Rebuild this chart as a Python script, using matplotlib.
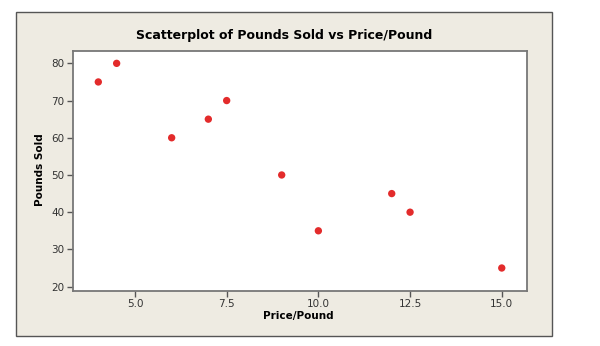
import matplotlib.pyplot as plt
from matplotlib.patches import Rectangle

# price per pound and pounds sold
price = [4.0, 4.5, 6.0, 7.0, 7.5, 9.0, 10.0, 12.0, 12.5, 15.0]
pounds = [75, 80, 60, 65, 70, 50, 35, 45, 40, 25]
x_ticks = [5.0, 7.5, 10.0, 12.5, 15.0]
y_ticks = [20, 30, 40, 50, 60, 70, 80]

W, H = 600, 346
fig = plt.figure(figsize=(6, 3.46), dpi=100, facecolor='white')

# beige panel behind the plot (negative zorder so the axes draw on top)
panel = Rectangle((16 / W, 1 - 336 / H), (552 - 16) / W, (336 - 12) / H,
                  transform=fig.transFigure, facecolor='#eeebe2',
                  edgecolor='#555555', linewidth=1.0, zorder=-1)
fig.patches.append(panel)

ax = fig.add_axes([73 / W, 1 - 290.7 / H, (526.7 - 73) / W, (290.7 - 50.7) / H])
ax.set_facecolor('white')
ax.scatter(price, pounds, s=28, color='#e32b2b', edgecolor='none', zorder=3)

ax.set_xlim(3.31, 15.68)
ax.set_ylim(18.9, 83.4)
ax.set_xticks(x_ticks)
ax.set_xticklabels([f'{t:.1f}' for t in x_ticks])
ax.set_yticks(y_ticks)

for side in ['left', 'bottom', 'top', 'right']:
    ax.spines[side].set_color('#777777')
    ax.spines[side].set_linewidth(1.3)

ax.tick_params(axis='both', direction='out', length=4, width=1,
               color='#555555', labelsize=7.5, labelcolor='#333333', pad=2)

fig.text(284 / W, 1 - 35 / H, 'Scatterplot of Pounds Sold vs Price/Pound',
         ha='center', va='center', fontsize=9, fontweight='bold')
fig.text(298 / W, 1 - 316 / H, 'Price/Pound', ha='center', va='center',
         fontsize=7.5, fontweight='bold')
fig.text(40 / W, 1 - 170 / H, 'Pounds Sold', ha='center', va='center',
         rotation=90, fontsize=7.5, fontweight='bold')

fig.savefig('out.png', dpi=100, facecolor='white')
